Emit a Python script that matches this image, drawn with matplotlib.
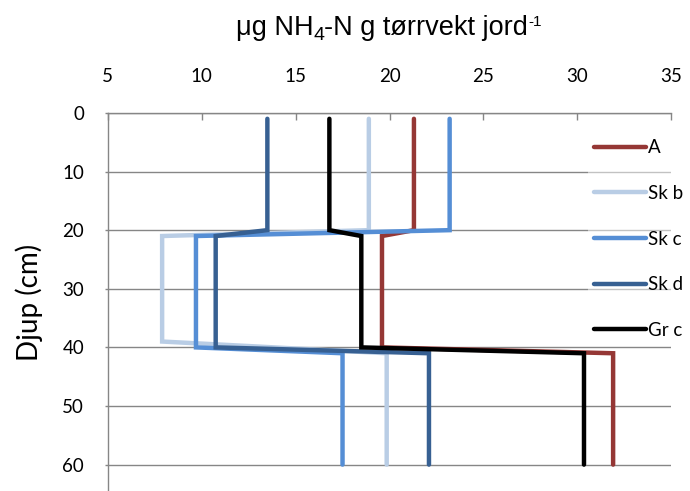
import matplotlib
matplotlib.use('Agg')
import matplotlib.pyplot as plt

plt.rcParams['font.family'] = ['Lato', 'DejaVu Sans']

# NH4-N per layer, stepped profile (x = concentration, y = depth)
depth = [1, 20, 21, 40, 41, 60]
depth_skb = [1, 20, 21, 39, 41, 60]

a = [21.3, 21.3, 19.6, 19.6, 31.9, 31.9]
sk_b = [18.9, 18.9, 7.9, 7.9, 19.85, 19.85]
sk_c = [23.2, 23.2, 9.7, 9.7, 17.5, 17.5]
sk_d = [13.5, 13.5, 10.75, 10.75, 22.1, 22.1]
gr_c = [16.8, 16.8, 18.5, 18.5, 30.35, 30.35]

names = ['A', 'Sk b', 'Sk c', 'Sk d', 'Gr c']
colors = ['#953735', '#B9CDE5', '#558ED5', '#376092', '#000000']
xticks = [5, 10, 15, 20, 25, 30, 35]
yticks = [0, 10, 20, 30, 40, 50, 60]

fig = plt.figure(figsize=(6.9, 4.91), dpi=100)
ax = fig.add_axes([0.156, 0.0, 0.817, 0.770])

series = [(a, depth), (sk_b, depth_skb), (sk_c, depth), (sk_d, depth), (gr_c, depth)]
for (xs, ys), name, c in zip(series, names, colors):
    ax.plot(xs, ys, color=c, lw=3.2, label=name,
            solid_capstyle='round', solid_joinstyle='miter', zorder=3)

ax.set_xlim(5, 35)
ax.set_ylim(64.5, 0)
ax.set_xticks(xticks)
ax.set_yticks(yticks)
ax.xaxis.tick_top()
ax.tick_params(axis='x', direction='in', length=5, width=1, color='#868686',
               pad=20, labelsize=13.5)
ax.tick_params(axis='y', direction='out', length=2, width=1, color='#868686',
               pad=15, labelsize=13.5)
ax.yaxis.grid(True, color='#868686', lw=1)
ax.set_axisbelow(True)
for s in ['right', 'bottom']:
    ax.spines[s].set_visible(False)
for s in ['top', 'left']:
    ax.spines[s].set_color('#868686')
    ax.spines[s].set_linewidth(1)

ax.set_ylabel('Djup (cm)', fontsize=20, va='center')
ax.yaxis.set_label_coords(-0.14, 0.5)

# title pieces: subscript 4 and superscript -1 (hyphen, not minus)
r = fig.canvas.get_renderer()
pieces = [('μg NH', 19.5, 0), ('4', 14, -5), ('-N g tørrvekt jord', 19.5, 0), ('-1', 11, 9)]
arts = []
for s, size, dy in pieces:
    t = fig.text(0, 0, s, fontsize=size, family='Liberation Sans',
                 va='baseline', ha='left', transform=None)
    arts.append((t, dy))
widths = [t.get_window_extent(renderer=r).width for t, _ in arts]
x0 = 388.5 - sum(widths) / 2
base = 491 - 35
for (t, dy), w in zip(arts, widths):
    t.set_position((x0, base + dy))
    x0 += w

leg = ax.legend(loc='upper right', bbox_to_anchor=(1.048, 0.97), frameon=True,
                fontsize=13.5, handlelength=2.8, handletextpad=0.1,
                labelspacing=1.53, borderpad=0.3)
leg.get_frame().set_facecolor('white')
leg.get_frame().set_alpha(0.5)
leg.get_frame().set_linewidth(0)

fig.savefig('out.png', dpi=100)
